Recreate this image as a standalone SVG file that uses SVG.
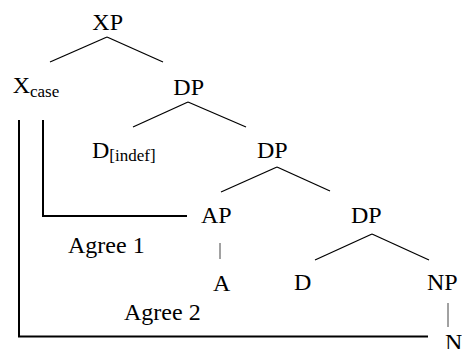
<svg xmlns="http://www.w3.org/2000/svg" width="462" height="349" viewBox="0 0 462 349">
<style>
.edge{stroke:#000;stroke-width:1.3;fill:none}
.bar{stroke:#444;stroke-width:1;fill:none}
.agree{stroke:#000;stroke-width:2;fill:none}
.t{font-family:"Liberation Serif","DejaVu Serif",serif;font-size:24px;fill:#000}
</style>
<rect width="462" height="349" fill="#fff"/>
<g id="connectors">
<line class="edge" x1="107" y1="37" x2="50" y2="62"/>
<line class="edge" x1="107" y1="37" x2="163" y2="62"/>
<line class="edge" x1="188" y1="102" x2="133" y2="127"/>
<line class="edge" x1="188" y1="102" x2="246" y2="127"/>
<line class="edge" x1="277" y1="167" x2="221" y2="192"/>
<line class="edge" x1="277" y1="167" x2="330" y2="191"/>
<line class="edge" x1="372" y1="234" x2="315" y2="260"/>
<line class="edge" x1="372" y1="234" x2="429" y2="260"/>
<line class="bar" x1="220" y1="243" x2="220" y2="259"/>
<line class="bar" x1="448" y1="303" x2="448" y2="327"/>
<polyline class="agree" points="43,120 43,216 187,216"/>
<polyline class="agree" points="19,120 19,336.5 428,336.5"/>
</g>
<g class="t">
<g id="XP"><text class="t" x="92.3" y="29.5">XP</text></g>
<g id="Xcase"><text class="t" x="12.7" y="93">X<tspan font-size="17" dy="3.5">case</tspan></text></g>
<g id="DP1"><text class="t" x="173.3" y="95">DP</text></g>
<g id="Dindef"><text class="t" x="92" y="158">D<tspan font-size="17" dy="3">[indef]</tspan></text></g>
<g id="DP2"><text class="t" x="257" y="158">DP</text></g>
<g id="AP"><text class="t" x="201" y="223">AP</text></g>
<g id="DP3"><text class="t" x="351" y="223">DP</text></g>
<g id="Agree1"><text class="t" x="68" y="253">Agree 1</text></g>
<g id="A"><text class="t" x="213" y="291">A</text></g>
<g id="D"><text class="t" x="294" y="290">D</text></g>
<g id="NP"><text class="t" x="427" y="290">NP</text></g>
<g id="Agree2"><text class="t" x="124" y="320">Agree 2</text></g>
<g id="N"><text class="t" x="445" y="350">N</text></g>
</g>
</svg>
